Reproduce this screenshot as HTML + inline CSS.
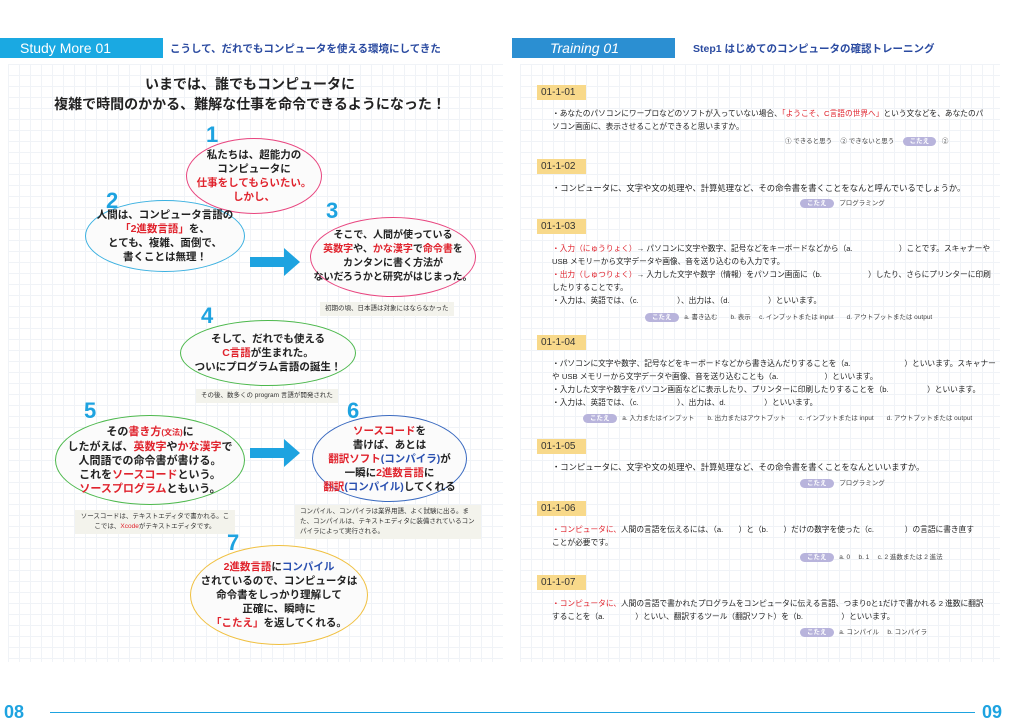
<!DOCTYPE html>
<html><head><meta charset="utf-8"><style>
*{margin:0;padding:0;box-sizing:border-box}
body{width:1024px;height:724px;overflow:hidden;background:#fff;position:relative;font-family:"Liberation Sans","Noto Sans CJK JP",sans-serif;color:#222}
.grid{position:absolute;background-image:linear-gradient(#f0f3f7 1px,transparent 1px),linear-gradient(90deg,#f0f3f7 1px,transparent 1px);background-size:11px 11px}
.a{position:absolute;white-space:nowrap}
.cl{position:absolute;border-radius:50%;background:#fbfbfb;border:1.6px solid;display:flex;align-items:center;justify-content:center;text-align:center;font-weight:bold;font-size:10.5px;line-height:14px}
.cl>div{white-space:nowrap}
.num{position:absolute;font-size:22px;font-weight:bold;color:#1ea3e0;font-family:"Liberation Sans",sans-serif;z-index:2}
.r{color:#e0232d}.b{color:#2a50b0}
.note{position:absolute;background:#f3f3ec;font-size:6.5px;line-height:10px;padding:2px 5px;color:#333}
.lab{position:absolute;left:537px;width:49px;height:15px;background:#f8d98a;font-size:10px;line-height:15px;padding-left:4px;color:#333}
.t{position:absolute;left:552px;font-size:7.7px;line-height:13px;color:#222;white-space:nowrap}
.ans{position:absolute;font-size:6.5px;color:#444;white-space:nowrap}
.k{display:inline-block;background:#b8b4dc;color:#fff;border-radius:6px;padding:0 7px;font-weight:bold;margin-right:4px;line-height:9px}
</style></head><body>
<div class="grid" style="left:8px;top:64px;width:495px;height:598px"></div>
<div class="grid" style="left:520px;top:64px;width:480px;height:598px"></div>

<div class="a" style="left:0;top:38px;width:163px;height:20px;background:#1aa9e2;color:#fff;font-size:14px;line-height:20px;padding-left:20px">Study More 01</div>
<div class="a" style="left:170px;top:41px;font-size:10.5px;font-weight:bold;color:#2a4aa0">こうして、だれでもコンピュータを使える環境にしてきた</div>
<div class="a" style="left:512px;top:38px;width:163px;height:20px;background:#2b8fd2;color:#fff;font-size:14px;font-style:italic;line-height:20px;padding-left:38px">Training 01</div>
<div class="a" style="left:693px;top:41px;font-size:10.5px;font-weight:bold;color:#2a4aa0">Step1 はじめてのコンピュータの確認トレーニング</div>

<div class="a" style="left:0;width:500px;top:74px;text-align:center;font-size:14px;font-weight:bold;line-height:20px">いまでは、誰でもコンピュータに<br>複雑で時間のかかる、難解な仕事を命令できるようになった！</div>

<div class="cl" style="left:186px;top:138px;width:136px;height:76px;border-color:#e8457f"><div>私たちは、超能力の<br>コンピュータに<br><span class="r">仕事をしてもらいたい。<br>しかし、</span></div></div>
<div class="num" style="left:206px;top:122px">1</div>
<div class="cl" style="left:85px;top:200px;width:160px;height:72px;border-color:#3ab0e0"><div>人間は、コンピュータ言語の<br><span class="r">「2進数言語」</span>を、<br>とても、複雑、面倒で、<br>書くことは無理！</div></div>
<div class="num" style="left:106px;top:188px">2</div>
<div class="cl" style="left:310px;top:217px;width:166px;height:80px;border-color:#e8457f;font-size:10px"><div>そこで、人間が使っている<br><span class="r">英数字</span>や、<span class="r">かな漢字</span>で<span class="r">命令書</span>を<br>カンタンに書く方法が<br>ないだろうかと研究がはじまった。</div></div>
<div class="num" style="left:326px;top:198px">3</div>
<svg class="a" style="left:250px;top:247px" width="52" height="30"><path d="M0 10H34V1L50 15L34 29V20H0Z" fill="#1ea3e0"/></svg>
<div class="note" style="left:320px;top:302px">初期の頃、日本語は対象にはならなかった</div>

<div class="cl" style="left:180px;top:320px;width:176px;height:66px;border-color:#4cb84c"><div>そして、だれでも使える<br><span class="r">C言語</span>が生まれた。<br>ついにプログラム言語の誕生！</div></div>
<div class="num" style="left:201px;top:303px">4</div>
<div class="note" style="left:196px;top:389px">その後、数多くの program 言語が開発された</div>

<div class="cl" style="left:55px;top:415px;width:190px;height:90px;border-color:#4cb84c;font-size:11px"><div>その<span class="r">書き方</span><span class="r" style="font-size:8px">(文法)</span>に<br>したがえば、<span class="r">英数字</span>や<span class="r">かな漢字</span>で<br>人間語での命令書が書ける。<br>これを<span class="r">ソースコード</span>という。<br><span class="r">ソースプログラム</span>ともいう。</div></div>
<div class="num" style="left:84px;top:398px">5</div>
<svg class="a" style="left:250px;top:438px" width="52" height="30"><path d="M0 10H34V1L50 15L34 29V20H0Z" fill="#1ea3e0"/></svg>
<div class="cl" style="left:312px;top:415px;width:155px;height:87px;border-color:#3a6ac0;font-size:10.5px"><div><span class="r">ソースコード</span>を<br>書けば、あとは<br><span class="r">翻訳ソフト</span><span class="b">(コンパイラ)</span>が<br>一瞬に<span class="r">2進数言語</span>に<br><span class="r">翻訳</span><span class="b">(コンパイル)</span>してくれる</div></div>
<div class="num" style="left:347px;top:398px">6</div>
<div class="note" style="left:75px;top:510px;width:160px;text-align:center;white-space:normal">ソースコードは、テキストエディタで書かれる。ここでは、<span class="r">Xcode</span>がテキストエディタです。</div>
<div class="note" style="left:295px;top:505px;width:186px;white-space:normal">コンパイル、コンパイラは業界用語、よく試験に出る。また、コンパイルは、テキストエディタに装備されているコンパイラによって実行される。</div>

<div class="cl" style="left:190px;top:545px;width:178px;height:100px;border-color:#f0c040"><div><span class="r">2進数言語</span>に<span class="b">コンパイル</span><br>されているので、コンピュータは<br>命令書をしっかり理解して<br>正確に、瞬時に<br><span class="r">「こたえ」</span>を返してくれる。</div></div>
<div class="num" style="left:227px;top:530px">7</div>

<div class="lab" style="top:85px">01-1-01</div>
<div class="t" style="top:107px">・あなたのパソコンにワープロなどのソフトが入っていない場合、<span class="r">「ようこそ、C言語の世界へ」</span>という文などを、あなたのパ<br>ソコン画面に、表示させることができると思いますか。</div>
<div class="ans" style="left:785px;top:135px">① できると思う　 ② できないと思う　 <span class="k">こたえ</span> ②</div>

<div class="lab" style="top:159px">01-1-02</div>
<div class="t" style="top:182px;font-size:8.3px">・コンピュータに、文字や文の処理や、計算処理など、その命令書を書くことをなんと呼んでいるでしょうか。</div>
<div class="ans" style="left:800px;top:197px"><span class="k">こたえ</span> プログラミング</div>

<div class="lab" style="top:219px">01-1-03</div>
<div class="t" style="top:242px"><span class="r">・入力（にゅうりょく）</span>→ パソコンに文字や数字、記号などをキーボードなどから（a.　　　　　　）ことです。スキャナーや<br>USB メモリーから文字データや画像、音を送り込むのも入力です。<br><span class="r">・出力（しゅつりょく）</span>→ 入力した文字や数字（情報）をパソコン画面に（b.　　　　　　）したり、さらにプリンターに印刷<br>したりすることです。<br>・入力は、英語では、（c.　　　　　）、出力は、（d.　　　　　）といいます。</div>
<div class="ans" style="left:645px;top:311px"><span class="k">こたえ</span> a. 書き込む　　b. 表示　 c. インプットまたは input　　d. アウトプットまたは output</div>

<div class="lab" style="top:335px">01-1-04</div>
<div class="t" style="top:357px">・パソコンに文字や数字、記号などをキーボードなどから書き込んだりすることを（a.　　　　　　　）といいます。スキャナー<br>や USB メモリーから文字データや画像、音を送り込むことも（a.　　　　　　）といいます。<br>・入力した文字や数字をパソコン画面などに表示したり、プリンターに印刷したりすることを（b.　　　　　）といいます。<br>・入力は、英語では、（c.　　　　　）、出力は、d.　　　　　）といいます。</div>
<div class="ans" style="left:583px;top:412px"><span class="k">こたえ</span> a. 入力またはインプット　　b. 出力またはアウトプット　　c. インプットまたは input　　d. アウトプットまたは output</div>

<div class="lab" style="top:439px">01-1-05</div>
<div class="t" style="top:461px;font-size:8.3px">・コンピュータに、文字や文の処理や、計算処理など、その命令書を書くことをなんといいますか。</div>
<div class="ans" style="left:800px;top:477px"><span class="k">こたえ</span> プログラミング</div>

<div class="lab" style="top:501px">01-1-06</div>
<div class="t" style="top:523px"><span class="r">・コンピュータに、</span>人間の言語を伝えるには、（a.　　）と（b.　　）だけの数字を使った（c.　　　　）の言語に書き直す<br>ことが必要です。</div>
<div class="ans" style="left:800px;top:551px"><span class="k">こたえ</span> a. 0　 b. 1　 c. 2 進数または 2 進法</div>

<div class="lab" style="top:575px">01-1-07</div>
<div class="t" style="top:597px"><span class="r">・コンピュータに、</span>人間の言語で書かれたプログラムをコンピュータに伝える言語、つまり0と1だけで書かれる 2 進数に翻訳<br>することを（a.　　　　）といい、翻訳するツール（翻訳ソフト）を（b.　　　　　）といいます。</div>
<div class="ans" style="left:800px;top:626px"><span class="k">こたえ</span> a. コンパイル　 b. コンパイラ</div>

<div class="a" style="left:4px;top:702px;font-size:18px;font-weight:bold;color:#1ea3e0">08</div>
<div class="a" style="left:50px;top:712px;width:925px;height:1px;background:#1ea3e0"></div>
<div class="a" style="left:982px;top:702px;font-size:18px;font-weight:bold;color:#1ea3e0">09</div>
</body></html>
